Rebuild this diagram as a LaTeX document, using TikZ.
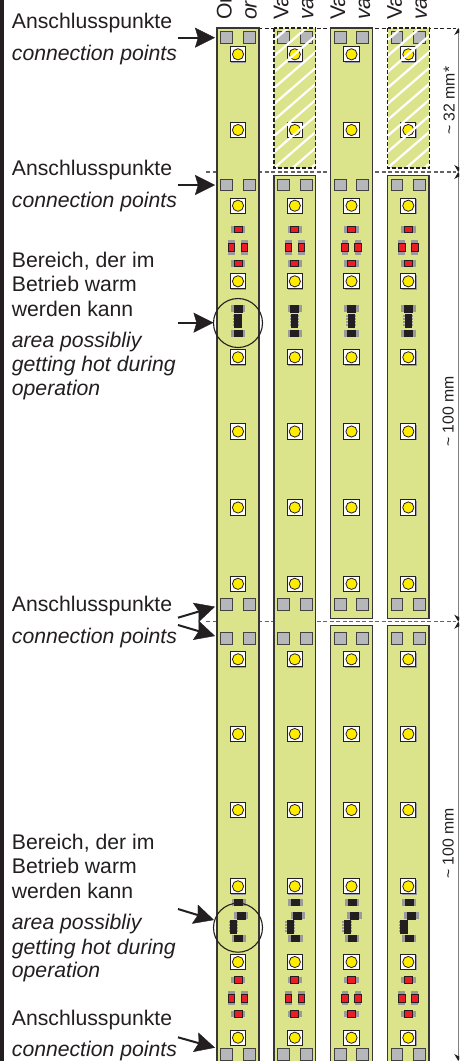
\documentclass[tikz,border=0pt]{standalone}
\usepackage{fontspec}
\setmainfont{Liberation Sans}
\usetikzlibrary{arrows.meta}
\definecolor{ink}{HTML}{231F20}
\definecolor{stripgreen}{HTML}{DBE48A}
\definecolor{padgray}{HTML}{B6B7BA}
\definecolor{chipgray}{HTML}{9A9A9C}
\definecolor{ledyellow}{HTML}{FFEC00}
\definecolor{chipred}{HTML}{ED1C24}
\tikzset{
  lbl/.style={anchor=base west,inner sep=0pt,text=ink,font=\fontsize{21.2}{25}\selectfont},
  lblit/.style={lbl,font=\fontsize{21.2}{25}\selectfont\itshape},
  toplbl/.style={lbl,rotate=90},
  toplblit/.style={lblit,rotate=90},
  dimlbl/.style={anchor=base west,inner sep=0pt,rotate=90,text=ink,font=\fontsize{15.8}{18}\selectfont},
  stripbox/.style={draw=ink!90!white,line width=1.5pt,fill=stripgreen},
  ghostfill/.style={fill=stripgreen},
  ghostedge/.style={draw=ink,line width=1.1pt,dash pattern=on 4pt off 2pt},
  cutline/.style={draw=ink!70!white,line width=1.1pt,dash pattern=on 4pt off 2.5pt},
  pointer/.style={draw=ink,line width=2pt,-{Stealth[length=20pt,width=20pt,inset=3pt,color=ink,fill=ink,line width=0.4pt]}},
  dimline/.style={draw=gray,line width=1pt,{Stealth[length=7pt,width=8pt,color=ink]}-{Stealth[length=7pt,width=8pt,color=ink]}},
  ring/.style={draw=ink,line width=1.1pt},
  hatchline/.style={draw=white,line width=2.2pt}
}
% connection pad pair
\newcommand{\padpair}[2]{%
  \foreach \dx in {-11.3,11.3}{
    \path[fill=padgray,draw=ink!85!white,line width=1pt] (#1+\dx-5.9,#2-5.9) rectangle (#1+\dx+5.9,#2+5.9);
  }}
% led
\newcommand{\led}[2]{%
  \path[fill=chipgray] (#1-6.8,#2-6.8) rectangle (#1+8.4,#2+8.4);
  \path[fill=white,draw=ink,line width=0.9pt] (#1-7.6,#2-7.6) rectangle (#1+7.6,#2+7.6);
  \path[fill=ledyellow,draw=ink,line width=0.8pt] (#1,#2) circle[radius=5.6];}
% horizontal chip: x,y,colour
\newcommand{\hchip}[3]{%
  \path[fill=chipgray] (#1-7.2,#2-3.4) rectangle (#1+7.2,#2+3.4);
  \path[fill=#3,draw=ink,line width=0.8pt] (#1-4,#2-3.2) rectangle (#1+4,#2+3.2);}
% vertical chip
\newcommand{\vchip}[3]{%
  \path[fill=chipgray] (#1-3.4,#2-7.2) rectangle (#1+3.4,#2+7.2);
  \path[fill=#3,draw=ink,line width=0.8pt] (#1-3.2,#2-4) rectangle (#1+3.2,#2+4);}
% IC
\newcommand{\icchip}[2]{%
  \foreach \dy in {-4.5,-1.5,1.5,4.5}{
    \path[fill=chipgray] (#1-5.2,#2+\dy-0.9) rectangle (#1+4.4,#2+\dy+0.9);
  }
  \path[fill=ink] (#1-3.6,#2-7) rectangle (#1+3.6,#2+7);}
\newcommand{\redgroup}[2]{%
  \hchip{#1}{#2}{chipred}
  \vchip{#1-6.5}{#2+18}{chipred}
  \vchip{#1+6.5}{#2+18}{chipred}
  \hchip{#1}{#2+34}{chipred}}
\newcommand{\hatchstrip}[1]{%
  \begin{scope}
    \clip (#1-20.8,28) rectangle (#1+20.8,168);
    \foreach \k in {0,...,13}{
      \draw[hatchline] (#1-30,32+\k*16) -- (#1+30,32+\k*16-52);
    }
  \end{scope}
  \path[ghostedge] (#1-20.8,28) rectangle (#1+20.8,168);}
\begin{document}
\begin{tikzpicture}[x=1pt,y=-1pt]
\useasboundingbox (0,0) rectangle (459,1061);
\path[fill=white] (0,0) rectangle (459,1061);
\clip (0,0) rectangle (459,1061);
\path[fill=ink] (0,0) rectangle (3.8,1061);

% top headings
\node[toplbl]   (h1a) at (231.5,20) {Or};
\node[toplblit] (h1b) at (256.5,20) {or};
\node[toplbl]   (h2a) at (288.3,20) {Va};
\node[toplblit] (h2b) at (313.3,20) {va};
\node[toplbl]   (h3a) at (345.1,20) {Va};
\node[toplblit] (h3b) at (370.1,20) {va};
\node[toplbl]   (h4a) at (401.9,20) {Va};
\node[toplblit] (h4b) at (426.9,20) {va};

% cut lines
\coordinate (c1a) at (258,28);    \coordinate (c1b) at (456,28);
\coordinate (c2a) at (206,172);   \coordinate (c2b) at (456,172);
\coordinate (c3a) at (206,621.7); \coordinate (c3b) at (456,621.7);
\draw[cutline,line width=0.9pt,draw=ink] (c1a) -- (c1b);
\draw[cutline] (c2a) -- (c2b);
\draw[cutline] (c3a) -- (c3b);

% strips
\path[stripbox] (217.2,28) rectangle (258.8,1070);
\path[ghostfill] (274,28) rectangle (315.6,168);
\path[stripbox] (274,175.7) rectangle (315.6,1070);
\path[stripbox] (330.7,28) rectangle (372.3,618.3);
\path[stripbox] (330.7,625.7) rectangle (372.3,1070);
\path[ghostfill] (387.5,28) rectangle (429.1,168);
\path[stripbox] (387.5,175.7) rectangle (429.1,618.3);
\path[stripbox] (387.5,625.7) rectangle (429.1,1070);

% components
\foreach \cx in {238,294.8,351.5,408.3}{
  \padpair{\cx}{37.7}
  \led{\cx}{54.3}
  \led{\cx}{130}
  \padpair{\cx}{185}
  \led{\cx}{205.7}
  \redgroup{\cx}{229.3}
  \led{\cx}{281.3}
  \hchip{\cx}{308.7}{ink}
  \icchip{\cx}{320.5}
  \hchip{\cx}{333.3}{ink}
  \led{\cx}{357.3}
  \led{\cx}{431.5}
  \led{\cx}{507.5}
  \led{\cx}{583.8}
  \padpair{\cx}{604.7}
  \padpair{\cx}{638.7}
  \led{\cx}{659.3}
  \led{\cx}{734}
  \led{\cx}{810}
  \led{\cx}{886.3}
  \hchip{\cx+0.7}{902.3}{ink}
  \hchip{\cx+3}{915.7}{ink}
  \icchip{\cx-4.3}{926.7}
  \hchip{\cx+0.7}{938.3}{ink}
  \led{\cx}{962}
  \redgroup{\cx}{980}
  \led{\cx}{1037.7}
  \padpair{\cx}{1054.7}
}

% hatched (optional) strip parts
\hatchstrip{294.8}
\hatchstrip{408.3}

% rings
\node[circle,ring,minimum size=49pt,inner sep=0pt] (r1) at (238,323) {};
\node[circle,ring,minimum size=49pt,inner sep=0pt] (r2) at (238,927.7) {};

% left labels
\node[lbl]   (a1) at (11.7,28)    {Anschlusspunkte};
\node[lblit] (b1) at (11.7,60)    {connection points};
\node[lbl]   (a2) at (11.7,175)   {Anschlusspunkte};
\node[lblit] (b2) at (11.7,207)   {connection points};
\node[lbl]   (w1) at (11.7,267.3) {Bereich, der im};
\node[lbl]   (w2) at (11.7,291.7) {Betrieb warm};
\node[lbl]   (w3) at (11.7,316)   {werden kann};
\node[lblit] (e1) at (11.7,347.3) {area possibliy};
\node[lblit] (e2) at (11.7,371.7) {getting hot during};
\node[lblit] (e3) at (11.7,395.7) {operation};
\node[lbl]   (a3) at (11.7,611.7) {Anschlusspunkte};
\node[lblit] (b3) at (11.7,643.3) {connection points};
\node[lbl]   (w4) at (11.7,849.3) {Bereich, der im};
\node[lbl]   (w5) at (11.7,873.3) {Betrieb warm};
\node[lbl]   (w6) at (11.7,898.3) {werden kann};
\node[lblit] (e4) at (11.7,929)   {area possibliy};
\node[lblit] (e5) at (11.7,954)   {getting hot during};
\node[lblit] (e6) at (11.7,977.7) {operation};
\node[lbl]   (a4) at (11.7,1025.7){Anschlusspunkte};
\node[lblit] (b4) at (11.7,1056.7){connection points};

% pointers
\coordinate (p1s) at (178,37.7);   \coordinate (p1e) at (215,37.7);
\coordinate (p2s) at (178,185);    \coordinate (p2e) at (215,185);
\coordinate (p3s) at (178,322.7);  \coordinate (p3e) at (213.5,322.7);
\coordinate (p4s) at (178,617.7);  \coordinate (p4e) at (215,606.7);
\coordinate (p5s) at (178,625);    \coordinate (p5e) at (215,636);
\coordinate (p6s) at (178,909);    \coordinate (p6e) at (214,920);
\coordinate (p7s) at (178,1037.3); \coordinate (p7e) at (215,1047.7);
\foreach \n in {1,...,7}{ \draw[pointer] (p\n s) -- (p\n e); }

% dimensions
\coordinate (d1) at (458.3,28);
\coordinate (d2) at (458.3,172);
\coordinate (d3) at (458.3,621.7);
\coordinate (d4) at (458.3,1061);
\draw[dimline] (d1) -- (d2);
\draw[dimline] (d2) -- (d3);
\draw[dimline] (d3) -- (d4);
\node[dimlbl] (m1) at (454.7,135) {\textasciitilde{} 32 mm*};
\node[dimlbl] (m2) at (453.5,447) {\textasciitilde{} 100 mm};
\node[dimlbl] (m3) at (453.5,879) {\textasciitilde{} 100 mm};
\end{tikzpicture}
\end{document}
